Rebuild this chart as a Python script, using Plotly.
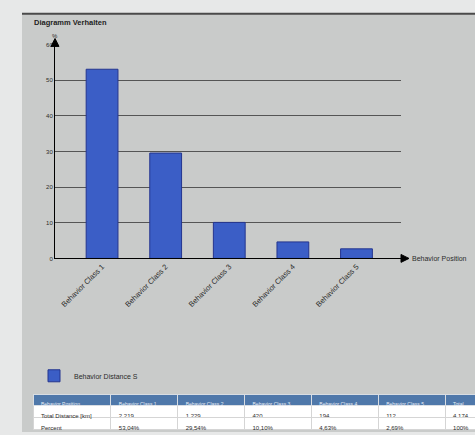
import plotly.graph_objects as go

W, H = 475, 435

# ---- data ----
categories = ["Behavior Class 1", "Behavior Class 2", "Behavior Class 3",
              "Behavior Class 4", "Behavior Class 5"]
percent = [53.04, 29.54, 10.10, 4.63, 2.69]
distance_km = [2219, 1229, 420, 194, 112]
y_ticks = [0, 10, 20, 30, 40, 50, 60]

title_text = "Diagramm Verhalten"
x_title = "Behavior Position"
legend_name = "Behavior Distance S"
row_labels = ["Total Distance [km]", "Percent"]

def px_x(p):
    return p / W

def px_y(p):
    return 1 - p / H

FONT = "Liberation Sans, Arial, sans-serif"
TXT = "#2b2b2b"

fig = go.Figure()

fig.add_trace(go.Bar(
    x=categories, y=percent, name=legend_name, width=0.5,
    marker=dict(color="#3b5ec6", line=dict(color="#24358f", width=1)),
    showlegend=True,
))

# table
def fmt_km(v):
    return f"{v:,}".replace(",", ".")

total_km = sum(distance_km)
header_vals = [x_title] + categories + ["Total"]
col0 = row_labels
cols = [[fmt_km(d), f"{p:.2f}%".replace(".", ",")] for d, p in zip(distance_km, percent)]
cols.append([fmt_km(total_km), "100%"])

fig.add_trace(go.Table(
    domain=dict(x=[px_x(33), 1.0], y=[0.0, px_y(397)]),
    columnwidth=[78] + [67] * 5 + [30],
    header=dict(values=header_vals, fill_color="#4f78aa",
                line=dict(color="#d8dde3", width=1),
                font=dict(color="#e8eef6", size=5, family=FONT),
                height=11, align="left"),
    cells=dict(values=[col0] + cols, fill_color="white",
               line=dict(color="#d5d5d5", width=1),
               font=dict(color=TXT, size=6, family=FONT),
               height=12, align="left"),
))

x_dom = [px_x(55), px_x(401)]
y_dom = [px_y(259), px_y(42)]

shapes = [
    # outer panel
    dict(type="rect", xref="paper", yref="paper", x0=px_x(22), x1=1.0,
         y0=0, y1=px_y(11), fillcolor="#c9cbca", line=dict(width=0), layer="below"),
    # top dark border
    dict(type="line", xref="paper", yref="paper", x0=px_x(22), x1=1.0,
         y0=px_y(11), y1=px_y(11), line=dict(color="#4a4a4a", width=2)),
    # y-axis arrow head
    dict(type="path", xref="paper", yref="paper",
         path=f"M {px_x(51)},{px_y(44)} L {px_x(59)},{px_y(44)} L {px_x(55)},{px_y(36)} Z",
         fillcolor="black", line=dict(color="black", width=1)),
    dict(type="line", xref="paper", yref="paper", x0=px_x(55), x1=px_x(55),
         y0=px_y(42), y1=px_y(44), line=dict(color="black", width=1)),
    # x-axis arrow head
    dict(type="line", xref="paper", yref="paper", x0=px_x(401), x1=px_x(403),
         y0=px_y(259), y1=px_y(259), line=dict(color="black", width=1)),
    dict(type="path", xref="paper", yref="paper",
         path=f"M {px_x(401)},{px_y(255)} L {px_x(401)},{px_y(263)} L {px_x(409)},{px_y(259)} Z",
         fillcolor="black", line=dict(color="black", width=1)),
]

annotations = [
    dict(text=f"<b>{title_text}</b>", xref="paper", yref="paper", x=px_x(32), y=px_y(20),
         xanchor="left", yanchor="middle", showarrow=False,
         font=dict(size=7.5, color="#222", family=FONT)),
    dict(text="%", xref="paper", yref="paper", x=px_x(55), y=px_y(33),
         xanchor="center", yanchor="middle", showarrow=False,
         font=dict(size=6, color=TXT, family=FONT)),
    dict(text=x_title, xref="paper", yref="paper", x=px_x(410), y=px_y(259),
         xanchor="left", yanchor="middle", showarrow=False,
         font=dict(size=7, color=TXT, family=FONT)),
]

fig.update_layout(
    width=W, height=H,
    margin=dict(l=0, r=0, t=0, b=0),
    paper_bgcolor="#e7e8e8",
    plot_bgcolor="rgba(0,0,0,0)",
    font=dict(family=FONT, color=TXT, size=6),
    bargap=0.5,
    xaxis=dict(domain=x_dom, range=[-0.74, 4.7], showgrid=False,
               showline=True, linecolor="black", linewidth=1,
               tickangle=-45, tickfont=dict(size=7.5, color=TXT),
               ticks="", zeroline=False, fixedrange=True),
    yaxis=dict(domain=y_dom, range=[0, 60], tickvals=y_ticks,
               showgrid=True, gridcolor="#555555", gridwidth=1,
               showline=True, linecolor="black", linewidth=1,
               tickfont=dict(size=6, color=TXT), ticks="", ticklen=0,
               zeroline=False),
    legend=dict(x=px_x(34), y=px_y(378), xanchor="left", yanchor="middle",
                orientation="h", bgcolor="rgba(0,0,0,0)", itemwidth=30,
                font=dict(size=7, color=TXT, family=FONT)),
    shapes=shapes,
    annotations=annotations,
)

fig.write_html(
    "out.html",
    config={"displayModeBar": False},
    post_script="document.body.style.margin='0';document.body.style.overflow='hidden';",
)
